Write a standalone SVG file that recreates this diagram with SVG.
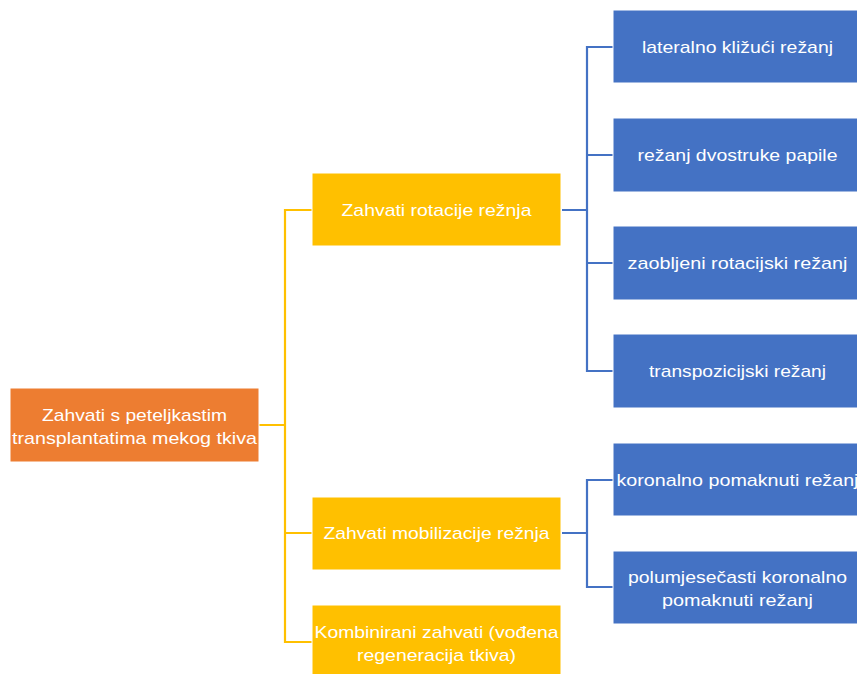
<svg xmlns="http://www.w3.org/2000/svg" width="857" height="674" viewBox="0 0 857 674">
<style>
.o{fill:#ED7D31;stroke:#fff;stroke-width:1}
.y{fill:#FFC000;stroke:#fff;stroke-width:1}
.b{fill:#4472C4;stroke:#fff;stroke-width:1}
text{font-family:"Liberation Sans",Arial,sans-serif;font-size:17px;fill:#fff;text-anchor:middle}
.cy{fill:none;stroke:#FFC000;stroke-width:2.2}
.cb{fill:none;stroke:#4472C4;stroke-width:2.2}
</style>
<rect width="857" height="674" fill="#fff"/>
<g id="connectors">
<path class="cy" d="M259 425H285M312 210H285V642H312M285 533H312"/>
<path class="cb" d="M562 210H587M613 47H587V371H613M587 155H613M587 263H613"/>
<path class="cb" d="M562 533H587M613 480H587V587H613"/>
</g>
<g id="root"><rect class="o" x="10" y="388" width="249" height="74"/>
<text x="134.5" y="421" textLength="185" lengthAdjust="spacingAndGlyphs">Zahvati s peteljkastim</text>
<text x="134.5" y="444" textLength="245" lengthAdjust="spacingAndGlyphs">transplantatima mekog tkiva</text></g>
<g id="rotacija"><rect class="y" x="312" y="173" width="249" height="73"/>
<text x="436.5" y="216" textLength="190" lengthAdjust="spacingAndGlyphs">Zahvati rotacije režnja</text></g>
<g id="mobilizacija"><rect class="y" x="312" y="497" width="249" height="73"/>
<text x="436.5" y="539" textLength="226" lengthAdjust="spacingAndGlyphs">Zahvati mobilizacije režnja</text></g>
<g id="kombinirani"><rect class="y" x="312" y="605" width="249" height="73"/>
<text x="436.5" y="638" textLength="244" lengthAdjust="spacingAndGlyphs">Kombinirani zahvati (vođena</text>
<text x="436.5" y="661" textLength="159" lengthAdjust="spacingAndGlyphs">regeneracija tkiva)</text></g>
<g id="lateralno"><rect class="b" x="613" y="10" width="249" height="73"/>
<text x="737.5" y="53" textLength="191" lengthAdjust="spacingAndGlyphs">lateralno kližući režanj</text></g>
<g id="dvostruke"><rect class="b" x="613" y="118" width="249" height="74"/>
<text x="737.5" y="161" textLength="200" lengthAdjust="spacingAndGlyphs">režanj dvostruke papile</text></g>
<g id="zaobljeni"><rect class="b" x="613" y="226" width="249" height="74"/>
<text x="737.5" y="269" textLength="220" lengthAdjust="spacingAndGlyphs">zaobljeni rotacijski režanj</text></g>
<g id="transpozicijski"><rect class="b" x="613" y="334" width="249" height="74"/>
<text x="737.5" y="377" textLength="177" lengthAdjust="spacingAndGlyphs">transpozicijski režanj</text></g>
<g id="koronalno"><rect class="b" x="613" y="443" width="249" height="73"/>
<text x="737.5" y="486" textLength="242" lengthAdjust="spacingAndGlyphs">koronalno pomaknuti režanj</text></g>
<g id="polumjesecasti"><rect class="b" x="613" y="551" width="249" height="73"/>
<text x="737.5" y="583" textLength="219" lengthAdjust="spacingAndGlyphs">polumjesečasti koronalno</text>
<text x="737.5" y="606" textLength="151" lengthAdjust="spacingAndGlyphs">pomaknuti režanj</text></g>
</svg>
